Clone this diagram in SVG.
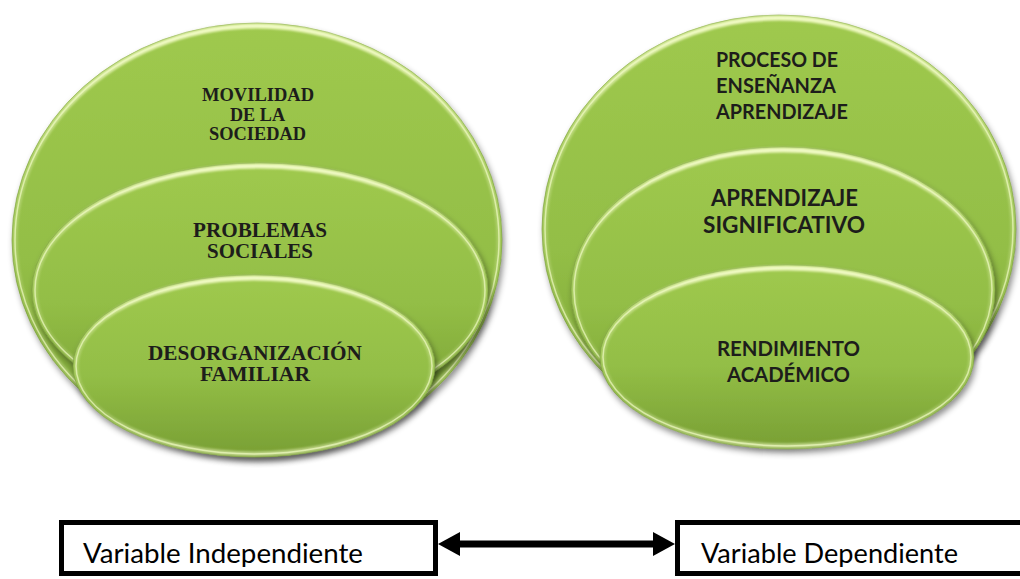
<svg xmlns="http://www.w3.org/2000/svg" width="1020" height="579" viewBox="0 0 1020 579">
<defs>
<linearGradient id="gFill" x1="0" y1="0" x2="0" y2="1">
<stop offset="0" stop-color="#9FC94E"/>
<stop offset="0.55" stop-color="#93BE46"/>
<stop offset="1" stop-color="#789F34"/>
</linearGradient>
<linearGradient id="gRim" x1="0" y1="0" x2="0" y2="1">
<stop offset="0" stop-color="#F4FCC8" stop-opacity="0.95"/>
<stop offset="0.3" stop-color="#F4FCC8" stop-opacity="0.35"/>
<stop offset="0.7" stop-color="#F4FCC8" stop-opacity="0.15"/>
<stop offset="1" stop-color="#F4FCC8" stop-opacity="0.55"/>
</linearGradient>
<filter id="shadow" x="-10%" y="-10%" width="125%" height="130%">
<feDropShadow dx="2" dy="4" stdDeviation="3" flood-color="#000" flood-opacity="0.45"/>
</filter>
<filter id="blur" x="-5%" y="-5%" width="110%" height="110%">
<feGaussianBlur stdDeviation="1.2"/>
</filter>
<marker id="head" viewBox="0 0 22 24" refX="0" refY="12" markerWidth="22" markerHeight="24" markerUnits="userSpaceOnUse" orient="auto-start-reverse">
<path d="M0,0 L22,12 L0,24 Z" fill="#000"/>
</marker>
<clipPath id="clipText">
<rect x="0" y="520" width="1020" height="47"/>
</clipPath>
</defs>
<style>
.fill{fill:url(#gFill);filter:url(#shadow)}
.edge{fill:none;stroke:#6C922E;stroke-width:1;stroke-opacity:0.6}
.rimw{fill:none;stroke:url(#gRim);stroke-width:5;filter:url(#blur)}
.rim{fill:none;stroke:#EEF9C2;stroke-opacity:0.7;stroke-width:1.5}
.tl{font-family:"Liberation Serif","Times New Roman",serif;font-weight:bold;fill:#1d1d1b;text-anchor:middle}
.tr{font-family:Lato,"Liberation Sans",sans-serif;font-weight:bold;fill:#1d1d1b}
.tc{text-anchor:middle}
.box{fill:#fff;stroke:#000;stroke-width:5}
.bt{font-family:Lato,"Liberation Sans",sans-serif;font-size:26px;fill:#000}
.arrow{stroke:#000;stroke-width:7;fill:none}
</style>
<rect width="1020" height="579" fill="#fff"/>

<g id="left-outer">
<ellipse class="fill" cx="257" cy="240" rx="245" ry="217"/>
<ellipse class="edge" cx="257" cy="240" rx="245" ry="217"/>
<ellipse class="rimw" cx="257" cy="240" rx="242" ry="214"/>
<ellipse class="rim" cx="257" cy="240" rx="242" ry="214"/>
<text class="tl" font-size="19" x="258" y="101" textLength="112" lengthAdjust="spacingAndGlyphs">MOVILIDAD</text>
<text class="tl" font-size="19" x="257.5" y="121" textLength="55" lengthAdjust="spacingAndGlyphs">DE LA</text>
<text class="tl" font-size="19" x="257.5" y="140" textLength="97" lengthAdjust="spacingAndGlyphs">SOCIEDAD</text>
</g>
<g id="left-middle">
<ellipse class="fill" cx="260" cy="290" rx="228" ry="127"/>
<ellipse class="edge" cx="260" cy="290" rx="228" ry="127"/>
<ellipse class="rimw" cx="260" cy="290" rx="225" ry="124"/>
<ellipse class="rim" cx="260" cy="290" rx="225" ry="124"/>
<text class="tl" font-size="20" x="260" y="237" textLength="134" lengthAdjust="spacingAndGlyphs">PROBLEMAS</text>
<text class="tl" font-size="20" x="260" y="258" textLength="106" lengthAdjust="spacingAndGlyphs">SOCIALES</text>
</g>
<g id="left-inner">
<ellipse class="fill" cx="254" cy="366" rx="181" ry="91"/>
<ellipse class="edge" cx="254" cy="366" rx="181" ry="91"/>
<ellipse class="rimw" cx="254" cy="366" rx="178" ry="88"/>
<ellipse class="rim" cx="254" cy="366" rx="178" ry="88"/>
<text class="tl" font-size="20" x="255" y="360" textLength="214" lengthAdjust="spacingAndGlyphs">DESORGANIZACIÓN</text>
<text class="tl" font-size="20" x="255" y="381" textLength="110" lengthAdjust="spacingAndGlyphs">FAMILIAR</text>
</g>

<g id="right-outer">
<ellipse class="fill" cx="779" cy="229" rx="237" ry="214"/>
<ellipse class="edge" cx="779" cy="229" rx="237" ry="214"/>
<ellipse class="rimw" cx="779" cy="229" rx="234" ry="211"/>
<ellipse class="rim" cx="779" cy="229" rx="234" ry="211"/>
<text class="tr" font-size="20" x="716" y="67" textLength="122" lengthAdjust="spacingAndGlyphs">PROCESO DE</text>
<text class="tr" font-size="20" x="716" y="93" textLength="120" lengthAdjust="spacingAndGlyphs">ENSEÑANZA</text>
<text class="tr" font-size="20" x="716" y="119" textLength="132" lengthAdjust="spacingAndGlyphs">APRENDIZAJE</text>
</g>
<g id="right-middle">
<ellipse class="fill" cx="783" cy="290" rx="212" ry="143"/>
<ellipse class="edge" cx="783" cy="290" rx="212" ry="143"/>
<ellipse class="rimw" cx="783" cy="290" rx="209" ry="140"/>
<ellipse class="rim" cx="783" cy="290" rx="209" ry="140"/>
<text class="tr tc" font-size="22.5" x="784.5" y="206" textLength="147" lengthAdjust="spacingAndGlyphs">APRENDIZAJE</text>
<text class="tr tc" font-size="22.5" x="784" y="233" textLength="162" lengthAdjust="spacingAndGlyphs">SIGNIFICATIVO</text>
</g>
<g id="right-inner">
<ellipse class="fill" cx="787" cy="357" rx="187" ry="92"/>
<ellipse class="edge" cx="787" cy="357" rx="187" ry="92"/>
<ellipse class="rimw" cx="787" cy="357" rx="184" ry="89"/>
<ellipse class="rim" cx="787" cy="357" rx="184" ry="89"/>
<text class="tr tc" font-size="21" x="788.5" y="356" textLength="143" lengthAdjust="spacingAndGlyphs">RENDIMIENTO</text>
<text class="tr tc" font-size="21" x="788.5" y="382" textLength="123" lengthAdjust="spacingAndGlyphs">ACADÉMICO</text>
</g>

<g id="box-independiente">
<rect class="box" x="61.5" y="522.5" width="374" height="51"/>
<text class="bt" x="83" y="563" textLength="280" lengthAdjust="spacingAndGlyphs" clip-path="url(#clipText)">Variable Independiente</text>
</g>
<g id="box-dependiente">
<rect class="box" x="677.5" y="522.5" width="400" height="51"/>
<text class="bt" x="701" y="563" textLength="257" lengthAdjust="spacingAndGlyphs" clip-path="url(#clipText)">Variable Dependiente</text>
</g>

<g id="connectors">
<line class="arrow" x1="460" y1="544" x2="653" y2="544" marker-start="url(#head)" marker-end="url(#head)"/>
</g>
</svg>
